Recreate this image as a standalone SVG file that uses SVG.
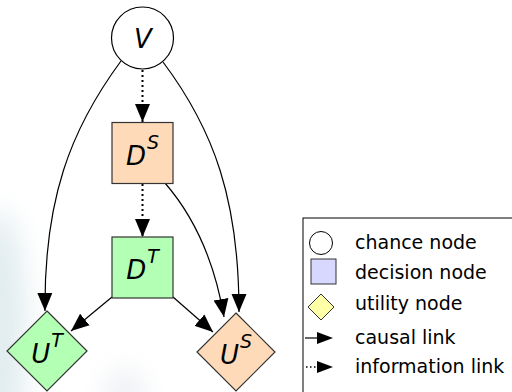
<svg xmlns="http://www.w3.org/2000/svg" width="512" height="392" viewBox="0 0 512 392">
<defs>
<style>
.node{stroke:#333;stroke-width:1.2}
.orange{fill:#FFDAB8}
.green{fill:#B3FFB3}
.edge{fill:none;stroke:#000;stroke-width:1.2}
.dot{fill:none;stroke:#000;stroke-width:2;stroke-dasharray:2 3}
.lbl{font-family:"DejaVu Sans",sans-serif;font-style:oblique;font-size:26px;fill:#000}
.sup{font-size:19px}
.leg{font-family:"DejaVu Sans",sans-serif;font-size:19px;fill:#000}
</style>
<marker id="ah" markerUnits="userSpaceOnUse" markerWidth="20" markerHeight="16" refX="18" refY="7.5" orient="auto" viewBox="0 0 20 15">
<path d="M0,0 L18,7.5 L0,15 Z" fill="#000"/>
</marker>
<filter id="blur" x="-1" y="-1" width="3" height="3"><feGaussianBlur stdDeviation="14"/></filter>
</defs>
<g id="background">
<ellipse cx="0" cy="330" rx="26" ry="120" fill="#c8dde2" opacity="0.55" filter="url(#blur)"/>
<ellipse cx="125" cy="392" rx="18" ry="22" fill="#d6dde6" opacity="0.5" filter="url(#blur)"/>
</g>
<g id="connectors">
<path class="dot" d="M142.5,70 L142.5,122" marker-end="url(#ah)"/>
<path class="dot" d="M142.5,184 L142.5,237" marker-end="url(#ah)"/>
<path class="edge" d="M121,61 C70,130 44,200 45,311" marker-end="url(#ah)"/>
<path class="edge" d="M163,62 C214,130 239,200 239,312" marker-end="url(#ah)"/>
<path class="edge" d="M165,183 Q210,235 224,317" marker-end="url(#ah)"/>
<path class="edge" d="M112,297 L71,331" marker-end="url(#ah)"/>
<path class="edge" d="M173,297 L213,332" marker-end="url(#ah)"/>
</g>
<g id="node-V">
<circle cx="142.5" cy="38" r="31" fill="#fff" stroke="#000" stroke-width="1.2"/>
<text class="lbl" x="143" y="48" text-anchor="middle" font-size="28">V</text>
</g>
<g id="node-DS">
<rect class="node orange" x="112" y="122.5" width="61" height="61"/>
<text class="lbl" x="142.5" y="165" text-anchor="middle">D<tspan class="sup" dx="1" dy="-16">S</tspan></text>
</g>
<g id="node-DT">
<rect class="node green" x="112" y="237" width="61" height="61"/>
<text class="lbl" x="142.5" y="279" text-anchor="middle">D<tspan class="sup" dx="1" dy="-16">T</tspan></text>
</g>
<g id="node-UT">
<polygon class="node green" points="47,311 87,351 47,391 7,351"/>
<text class="lbl" x="47" y="363" text-anchor="middle">U<tspan class="sup" dx="1" dy="-16">T</tspan></text>
</g>
<g id="node-US">
<polygon class="node orange" points="236,313 275,352 236,391 197,352"/>
<text class="lbl" x="236" y="364" text-anchor="middle">U<tspan class="sup" dx="1" dy="-16">S</tspan></text>
</g>
<g id="legend">
<rect x="303" y="218" width="230" height="200" fill="#fff" stroke="#000" stroke-width="1"/>
<circle cx="321" cy="243" r="11.5" fill="#fff" stroke="#000" stroke-width="1"/>
<rect x="311" y="259" width="25" height="25" fill="#D8D8FF" stroke="#333" stroke-width="1"/>
<polygon points="321,294 334,307 321,320 308,307" fill="#FFFFA8" stroke="#333" stroke-width="1"/>
<line x1="305" y1="338" x2="320" y2="338" stroke="#000" stroke-width="1.2"/>
<polygon points="317,332 333,338 317,344" fill="#000"/>
<line x1="306" y1="367" x2="318" y2="367" stroke="#000" stroke-width="1.5" stroke-dasharray="1.5 2.5"/>
<polygon points="317,361 333,367 317,373" fill="#000"/>
<text class="leg" x="355" y="249">chance node</text>
<text class="leg" x="355" y="279">decision node</text>
<text class="leg" x="355" y="310">utility node</text>
<text class="leg" x="355" y="344">causal link</text>
<text class="leg" x="355" y="373">information link</text>
</g>
</svg>
